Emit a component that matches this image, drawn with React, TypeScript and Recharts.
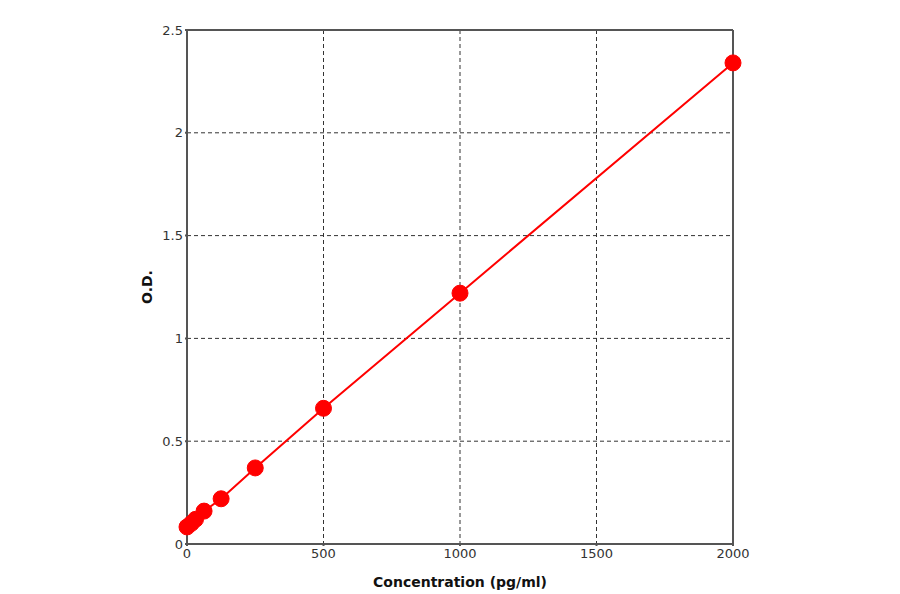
import React from 'react'
import { LineChart, Line, XAxis, YAxis, CartesianGrid, ReferenceLine } from 'recharts'

// Standard curve readings: concentration (pg/ml) vs optical density
const concentrations = [0, 15.6, 31.25, 62.5, 125, 250, 500, 1000, 2000]
const odValues = [0.083, 0.1, 0.12, 0.16, 0.22, 0.37, 0.66, 1.22, 2.34]

const xTicks = [0, 500, 1000, 1500, 2000]
const yTicks = [0, 0.5, 1, 1.5, 2, 2.5]

const data = concentrations.map((c, i) => ({ conc: c, od: odValues[i] }))

const FONT = '"DejaVu Sans", Verdana, sans-serif'
const FRAME = '#555555'

export default function App() {
  return (
    <div style={{ position: 'absolute', left: 0, top: 0, width: 900, height: 594, background: '#fff' }}>
      <LineChart width={900} height={594} data={data} margin={{ top: 30, right: 167, left: 0, bottom: 0 }}>
        <CartesianGrid stroke="#333" strokeDasharray="4 3" strokeWidth={1} />
        <XAxis
          dataKey="conc"
          type="number"
          domain={[0, 2000]}
          ticks={xTicks}
          height={50}
          tickSize={2}
          tickMargin={3}
          stroke={FRAME}
          strokeWidth={2}
          tick={{ fill: '#333', fontSize: 13, fontFamily: FONT }}
          label={{
            content: ({ viewBox }: any) => (
              <text
                x={viewBox.x + viewBox.width / 2}
                y={viewBox.y + 43}
                textAnchor="middle"
                fontFamily={FONT}
                fontSize={14}
                fontWeight="bold"
                fill="#111"
              >
                Concentration (pg/ml)
              </text>
            ),
          }}
        />
        <YAxis
          type="number"
          domain={[0, 2.5]}
          ticks={yTicks}
          width={187}
          tickSize={2}
          tickMargin={2}
          stroke={FRAME}
          strokeWidth={2}
          tick={{ fill: '#333', fontSize: 13, fontFamily: FONT }}
          label={{
            content: ({ viewBox }: any) => {
              const cx = viewBox.x + viewBox.width - 40
              const cy = viewBox.y + viewBox.height / 2
              return (
                <text
                  x={cx}
                  y={cy}
                  transform={`rotate(-90 ${cx} ${cy})`}
                  textAnchor="middle"
                  dominantBaseline="central"
                  fontFamily={FONT}
                  fontSize={14}
                  fontWeight="bold"
                  fill="#111"
                >
                  O.D.
                </text>
              )
            },
          }}
        />
        <ReferenceLine y={2.5} stroke={FRAME} strokeWidth={2} />
        <ReferenceLine x={2000} stroke={FRAME} strokeWidth={2} />
        <Line
          dataKey="od"
          type="linear"
          stroke="#ff0000"
          strokeWidth={2}
          dot={{ r: 8, fill: '#ff0000', stroke: '#ff0000', strokeWidth: 1 }}
          activeDot={false}
          isAnimationActive={false}
        />
      </LineChart>
    </div>
  )
}
